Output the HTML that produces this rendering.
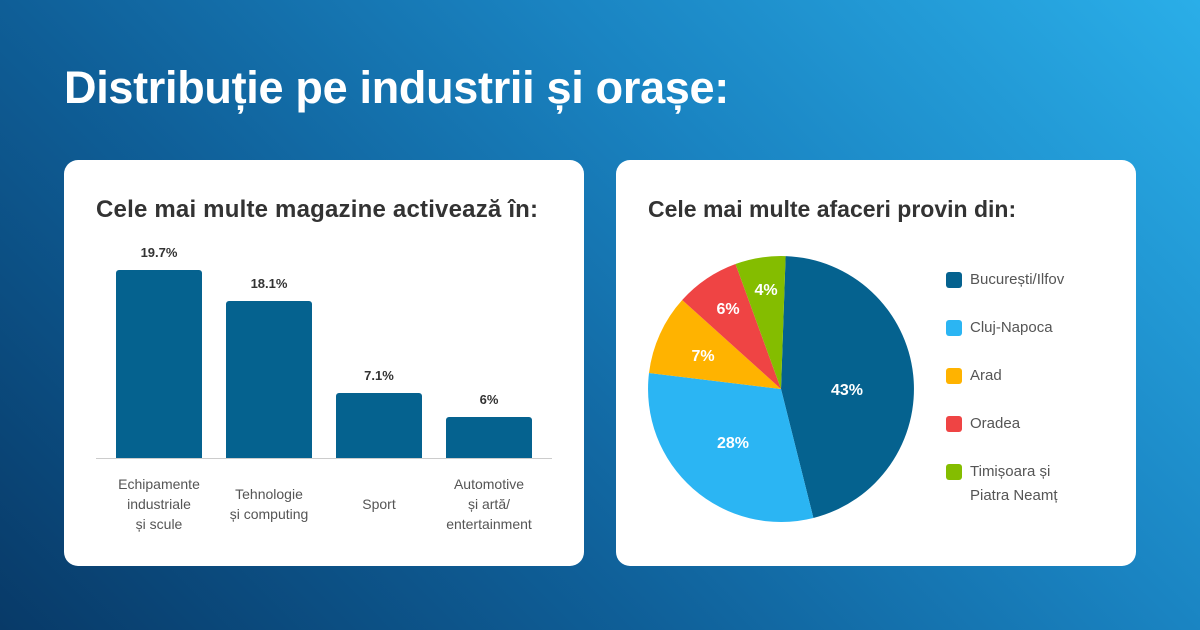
<!DOCTYPE html>
<html><head><meta charset="utf-8"><style>
body{margin:0;width:1200px;height:630px;overflow:hidden;font-family:"Liberation Sans",sans-serif;}
.bg{position:absolute;inset:0;background:linear-gradient(225deg,#2aaee8 0%,#1a84c2 35%,#0f5f98 65%,#083a68 100%);}
h1{position:absolute;left:64px;top:62px;margin:0;color:#fff;font-size:45px;font-weight:bold;letter-spacing:-0.3px;}
.card{position:absolute;top:160px;width:520px;height:406px;background:#fff;border-radius:14px;}
.ct{position:absolute;left:32px;top:36px;font-size:23px;font-weight:bold;color:#333;}
.bar{position:absolute;width:86px;background:#05628f;border-radius:3px 3px 0 0;}
.val{position:absolute;width:86px;text-align:center;font-size:13px;font-weight:bold;color:#333;}
.lab{position:absolute;width:120px;text-align:center;font-size:14px;color:#555;line-height:20px;}
.lg{position:absolute;left:354px;font-size:15px;color:#555;line-height:24px;}
.lg i{position:absolute;left:-24px;top:4px;width:16px;height:16px;border-radius:3px;}
</style></head><body>
<div class="bg"></div>
<h1>Distribuție pe industrii și orașe:</h1>
<div class="card" style="left:64px">
<div class="ct" style="font-size:24px;letter-spacing:0.2px">Cele mai multe magazine activează în:</div>
<div class="bar" style="left:52px;top:110px;height:188px"></div>
<div class="bar" style="left:162px;top:141px;height:157px"></div>
<div class="bar" style="left:272px;top:233px;height:65px"></div>
<div class="bar" style="left:382px;top:257px;height:41px"></div>
<div style="position:absolute;left:32px;top:298px;width:456px;height:1px;background:#ccc"></div>
<div class="val" style="left:52px;top:85px">19.7%</div>
<div class="val" style="left:162px;top:116px">18.1%</div>
<div class="val" style="left:272px;top:208px">7.1%</div>
<div class="val" style="left:382px;top:232px">6%</div>
<div class="lab" style="left:35px;top:314px">Echipamente<br>industriale<br>și scule</div>
<div class="lab" style="left:145px;top:324px">Tehnologie<br>și computing</div>
<div class="lab" style="left:255px;top:334px">Sport</div>
<div class="lab" style="left:365px;top:314px">Automotive<br>și artă/<br>entertainment</div>
</div>
<div class="card" style="left:616px">
<div class="ct">Cele mai multe afaceri provin din:</div>
<svg style="position:absolute;left:0;top:0" width="520" height="406">
<g transform="translate(165,229)">
<path d="M0,0 L4.6,-132.9 A133,133 0 0 1 32.4,129 Z" fill="#05628f"/>
<path d="M0,0 L32.4,129 A133,133 0 0 1 -132.0,-16 Z" fill="#2bb5f3"/>
<path d="M0,0 L-132.0,-16 A133,133 0 0 1 -98.8,-89 Z" fill="#ffb300"/>
<path d="M0,0 L-98.8,-89 A133,133 0 0 1 -45.5,-125 Z" fill="#ef4444"/>
<path d="M0,0 L-45.5,-125 A133,133 0 0 1 4.6,-132.9 Z" fill="#84bd00"/>
</g>
<g fill="#fff" font-family="Liberation Sans" font-weight="bold" font-size="16" text-anchor="middle">
<text x="231" y="235">43%</text><text x="117" y="288">28%</text>
<text x="87" y="201">7%</text><text x="112" y="154">6%</text><text x="150" y="135">4%</text>
</g></svg>
<div class="lg" style="top:108px"><i style="background:#05628f"></i>București/Ilfov</div>
<div class="lg" style="top:156px"><i style="background:#2bb5f3"></i>Cluj-Napoca</div>
<div class="lg" style="top:204px"><i style="background:#ffb300"></i>Arad</div>
<div class="lg" style="top:252px"><i style="background:#ef4444"></i>Oradea</div>
<div class="lg" style="top:300px"><i style="background:#84bd00"></i>Timișoara și<br>Piatra Neamț</div>
</div>
</body></html>
